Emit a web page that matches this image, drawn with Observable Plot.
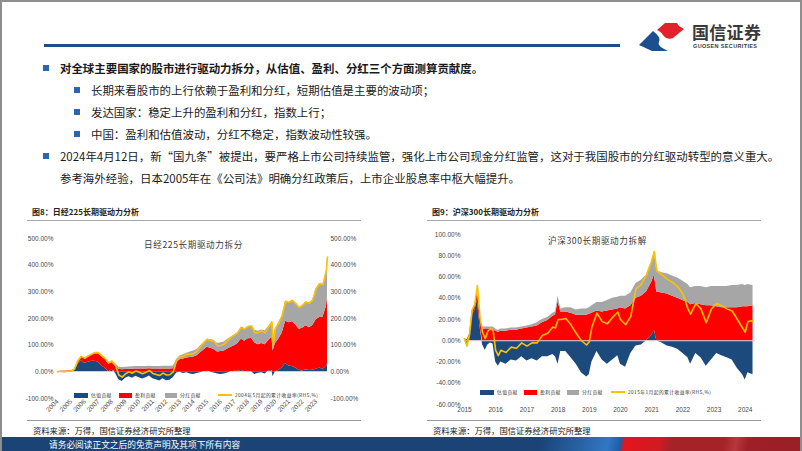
<!DOCTYPE html>
<html><head><meta charset="utf-8">
<script src="https://cdn.jsdelivr.net/npm/d3@7"></script>
<script src="https://cdn.jsdelivr.net/npm/@observablehq/plot@0.6"></script>
<style>
html,body{margin:0;padding:0;background:#fff;}
#page{position:relative;width:802px;height:451px;overflow:hidden;background:#fff;box-sizing:border-box;border:2px solid #8e8e8e;border-bottom:none;font-family:"Noto Sans CJK SC","Noto Sans",sans-serif;color:#1a1a1a;}
.abs{position:absolute;white-space:nowrap;}
.txt{font-size:11.45px;line-height:16px;}
.sq{position:absolute;width:6px;height:6px;background:#2a66ad;}
.fig{font-size:8px;font-weight:bold;line-height:10px;color:#222;}
.rule{position:absolute;height:1px;background:#a8a8a8;}
.src{font-size:8.3px;line-height:10px;color:#222;}
.ctitle{font-size:8.6px;line-height:10px;color:#3a3a3a;letter-spacing:0.6px;}
.lg{position:absolute;font-size:4.8px;line-height:6px;letter-spacing:0.4px;color:#333;white-space:nowrap;}
.sw{position:absolute;height:5px;}
.ln{position:absolute;height:1.3px;background:#ffc000;}
.chart{position:absolute;}
</style></head>
<body><div id="page">
  <!-- header -->
  <div class="abs" style="left:42px;top:42px;width:576px;height:3px;background:#1f4d8a;"></div>
  <svg class="abs" style="left:0;top:0;" width="802" height="60">
    <path d="M637,43 L651,29 C655,32 659,36 657,40 C655,44 662,47 666,49 L650,49 Z" fill="#1d4f8f"/>
    <path d="M655,28 L663,21 L675,21 L677,24 L682,27 L671,36 C667,38 663,36 661,33 C659,30 657,29 655,28 Z" fill="#e2222b"/>
  </svg>
  <div class="abs" style="left:690px;top:21px;font-size:17px;line-height:18px;font-weight:bold;color:#3a3a3a;letter-spacing:0.3px;">国信证券</div>
  <div class="abs" style="left:691px;top:41px;font-family:'Liberation Sans';font-size:5.5px;line-height:7px;font-weight:bold;color:#3a3a3a;letter-spacing:0.35px;">GUOSEN SECURITIES</div>

  <!-- bullets -->
  <div class="sq" style="left:41px;top:63px;"></div>
  <div class="abs txt" style="left:58px;top:58px;font-weight:bold;">对全球主要国家的股市进行驱动力拆分，从估值、盈利、分红三个方面测算贡献度。</div>
  <div class="sq" style="left:72px;top:85px;"></div>
  <div class="abs txt" style="left:89px;top:80px;">长期来看股市的上行依赖于盈利和分红，短期估值是主要的波动项；</div>
  <div class="sq" style="left:72px;top:107px;"></div>
  <div class="abs txt" style="left:89px;top:102px;">发达国家：稳定上升的盈利和分红，指数上行；</div>
  <div class="sq" style="left:72px;top:129px;"></div>
  <div class="abs txt" style="left:89px;top:124px;">中国：盈利和估值波动，分红不稳定，指数波动性较强。</div>
  <div class="sq" style="left:41px;top:151px;"></div>
  <div class="abs txt" style="left:58px;top:146px;">2024年4月12日，新“国九条”被提出，要严格上市公司持续监管，强化上市公司现金分红监管，这对于我国股市的分红驱动转型的意义重大。</div>
  <div class="abs txt" style="left:58px;top:168px;">参考海外经验，日本2005年在《公司法》明确分红政策后，上市企业股息率中枢大幅提升。</div>

  <!-- figure titles -->
  <div class="abs fig" style="left:30px;top:205px;">图8：日经225长期驱动力分析</div>
  <div class="rule" style="left:25px;top:218px;width:334px;"></div>
  <div class="abs fig" style="left:430px;top:205px;">图9：沪深300长期驱动力分析</div>
  <div class="rule" style="left:425px;top:218px;width:334px;"></div>

  <div id="c1" class="chart" style="left:18px;top:225px;"></div>
  <div id="c2" class="chart" style="left:418px;top:225px;"></div>

  <div class="abs ctitle" style="left:142px;top:237px;">日经225长期驱动力拆分</div>
  <div class="abs ctitle" style="left:546px;top:233px;">沪深300长期驱动力拆解</div>

  <div id="lg1"></div>
  <div id="lg2"></div>

  <!-- sources -->
  <div class="rule" style="left:25px;top:418px;width:334px;background:#999;"></div>
  <div class="abs src" style="left:31px;top:423px;">资料来源：万得，国信证券经济研究所整理</div>
  <div class="rule" style="left:425px;top:418px;width:334px;background:#999;"></div>
  <div class="abs src" style="left:431px;top:423px;">资料来源：万得，国信证券经济研究所整理</div>

  <!-- footer -->
  <div class="abs" style="left:0;top:435px;width:802px;height:16px;background:linear-gradient(100deg,#1b4376 0px,#1b4376 530px,#3277c4 598px,#1f5ca6 610px,#e3151d 614px,#d21a22 648px,#a52229 660px,#a52229 712px,#b8363d 724px,#9e1f27 736px,#9a1f26 802px);"></div>
  <div class="abs" style="left:47px;top:437px;font-size:8.7px;line-height:11px;color:#fff;">请务必阅读正文之后的免责声明及其项下所有内容</div>
</div>
<script>
// ---------- shared ----------
const keys = ["估值贡献", "盈利贡献", "分红贡献"];
const keyColors = ["#1d4a7c", "#ff0000", "#a6a6a6"];
const lineColor = "#ffc000";

// ---------- 图8 日经225 (quarterly readings, %) ----------
const nkDates = ["2004-05","2004-08","2004-11","2005-02","2005-05","2005-08","2005-11","2006-02","2006-05","2006-08","2006-11","2007-02","2007-05","2007-08","2007-11","2008-02","2008-05","2008-08","2008-11","2009-02","2009-05","2009-08","2009-11","2010-02","2010-05","2010-08","2010-11","2011-02","2011-05","2011-08","2011-11","2012-02","2012-05","2012-08","2012-11","2013-02","2013-05","2013-08","2013-11","2014-02","2014-05","2014-08","2014-11","2015-02","2015-05","2015-08","2015-11","2016-02","2016-05","2016-08","2016-11","2017-02","2017-05","2017-08","2017-11","2018-02","2018-05","2018-08","2018-11","2019-02","2019-05","2019-08","2019-11","2020-02","2020-03","2020-05","2020-08","2020-11","2021-02","2021-05","2021-08","2021-11","2022-02","2022-05","2022-08","2022-11","2023-02","2023-05","2023-08","2023-11","2024-02","2024-03"];
const nkValuation = [0,-1,-3,-2,-2,4,30,42,32,36,40,40,36,22,14,0,6,-4,-30,-36,-24,-18,-24,-17,-22,-27,-22,-16,-26,-30,-34,-26,-33,-32,-22,-4,-2,-6,-3,-8,-10,-6,-3,0,2,-2,-4,-8,-10,-8,-4,0,2,2,5,0,2,0,-10,-5,-3,-8,2,5,-18,0,5,15,30,22,20,14,5,3,8,5,6,10,14,10,20,30];
const nkEarnings = [0,2,2,3,3,5,10,14,17,20,23,28,32,34,32,28,28,22,10,8,9,10,10,11,11,11,11,12,11,11,11,11,11,11,12,35,45,48,52,54,56,60,72,82,90,88,84,74,76,78,86,92,96,104,118,115,122,125,108,102,106,102,115,125,78,105,118,130,160,162,168,162,155,160,165,160,168,185,190,195,225,255];
const nkDividend = [0,1,1,1,1,1,2,2,2,3,3,4,4,5,5,6,7,8,8,8,8,8,9,9,9,9,9,9,9,9,9,10,10,10,10,12,14,16,18,20,22,24,26,28,30,32,34,32,33,34,36,38,40,41,44,45,46,47,48,50,51,52,52,57,40,57,60,65,75,76,80,80,81,86,89,92,96,117,126,122,135,145];
const nkTotal = [0,2,0,2,2,10,42,58,51,59,66,72,72,61,51,34,41,26,-12,-20,-7,0,-5,3,-2,-7,-2,5,-6,-10,-14,-5,-12,-11,0,43,57,58,67,66,68,78,95,110,122,118,114,98,99,104,118,130,138,147,167,160,170,172,146,147,154,146,169,187,100,162,183,210,265,260,268,256,241,249,262,257,270,312,330,327,380,430];
const nkTickMonths = ["2004-05","2005-05","2006-05","2007-05","2008-05","2009-05","2010-05","2011-05","2012-05","2013-05","2014-05","2015-05","2016-05","2017-05","2018-05","2019-05","2020-05","2021-05","2022-05","2023-05"];
const nkYTicks = [-100, 0, 100, 200, 300, 400, 500];

// ---------- 图9 沪深300 (readings, %) ----------
const hsDates = ["2015-01","2015-02","2015-03","2015-04","2015-05","2015-06","2015-07","2015-08","2015-09","2015-10","2015-11","2015-12","2016-01","2016-02","2016-03","2016-05","2016-07","2016-09","2016-11","2017-01","2017-03","2017-05","2017-07","2017-09","2017-11","2017-12","2018-01","2018-02","2018-04","2018-06","2018-08","2018-10","2018-12","2019-01","2019-02","2019-04","2019-06","2019-08","2019-10","2019-12","2020-01","2020-03","2020-05","2020-07","2020-09","2020-11","2021-01","2021-02","2021-03","2021-05","2021-07","2021-09","2021-11","2022-01","2022-03","2022-04","2022-06","2022-08","2022-10","2022-12","2023-02","2023-04","2023-06","2023-08","2023-10","2023-12","2024-01","2024-02","2024-04"];
const hsValuation = [1,-6,4,24,28,38,14,-4,-9,-4,-2,-3,-20,-24,-20,-22,-18,-19,-15,-19,-17,-19,-15,-15,-13,-15,-22,-10,-10,-16,-22,-30,-34,-32,-20,-10,-18,-22,-18,-14,-22,-25,-12,-5,-4,0,5,10,0,-2,-5,-6,-8,-12,-16,-22,-12,-16,-24,-18,-12,-14,-16,-18,-26,-32,-37,-30,-32];
const hsEarnings = [1,1,2,4,5,8,10,11,11,11,11,11,9,8,9,9,10,10,11,12,13,14,17,19,23,24,37,27,27,26,24,24,24,25,26,28,27,28,29,30,31,30,33,40,42,46,50,52,46,45,44,42,40,38,36,34,35,34,33,33,32,31,31,31,31,32,32,32,33];
const hsDividend = [0,0,0.5,1,1,2,2,2,2,2,2,2,2,2,2,2,2,2,2,2,2,3,3,3,3,3,5,3,4,5,5,6,6,6,7,8,9,10,11,11,11,12,12,14,15,16,20,22,20,19,19,19,19,18,17,16,16,17,17,18,19,20,20,21,21,21,20,21,19];
const hsTotal = [2,-5,6,29,34,52,22,8,2,9,11,10,-9,-14,-9,-11,-6,-7,-2,-5,-2,-2,5,7,13,12,20,20,21,15,7,0,-4,-1,13,26,18,16,22,27,20,15,23,49,53,62,75,84,66,62,58,55,51,44,30,25,35,30,17,30,35,33,30,28,20,12,8,18,19];
const hsTickMonths = ["2015-01","2016-01","2017-01","2018-01","2019-01","2020-01","2021-01","2022-01","2023-01","2024-01"];
const hsYTicks = [-60, -40, -20, 0, 20, 40, 60, 80, 100];

// ---------- build ----------
const parse = d3.utcParse("%Y-%m");
function toLong(dates, series) {
  const out = [];
  dates.forEach((d, i) => keys.forEach((k, j) => out.push({date: parse(d), key: k, value: series[j][i]})));
  return out;
}
function toLine(dates, vals) { return dates.map((d, i) => ({date: parse(d), value: vals[i]})); }
const pct = d => d.toFixed(2) + "%";
const axisStyle = {fontFamily: "'Liberation Sans', Arial, sans-serif", fontSize: "6.5px", color: "#4a4a4a", background: "transparent", overflow: "visible"};

const nkLong = toLong(nkDates, [nkValuation, nkEarnings, nkDividend]);
const nkLine = toLine(nkDates, nkTotal);
const c1 = Plot.plot({
  width: 347, height: 195,
  marginTop: 11, marginBottom: 24, marginLeft: 37, marginRight: 40,
  x: {type: "utc", domain: [parse("2004-05"), parse("2024-03")]},
  y: {domain: [-100, 500]},
  color: {domain: keys, range: keyColors},
  style: axisStyle,
  marks: [
    Plot.areaY(nkLong, {x: "date", y: "value", fill: "key", order: keys}),
    Plot.lineY(nkLine, {x: "date", y: "value", stroke: lineColor, strokeWidth: 1.6}),
    Plot.axisY({anchor: "left", ticks: nkYTicks, tickFormat: pct, tickSize: 0, tickPadding: 4, label: null}),
    Plot.axisY({anchor: "right", ticks: nkYTicks, tickFormat: pct, tickSize: 0, tickPadding: 3, label: null}),
    Plot.axisX({ticks: nkTickMonths.map(parse), tickFormat: d => String(d.getUTCFullYear()), tickRotate: -45, tickSize: 0, tickPadding: 2, label: null})
  ]
});
document.getElementById("c1").appendChild(c1);

const hsLong = toLong(hsDates, [hsValuation, hsEarnings, hsDividend]);
const hsLine = toLine(hsDates, hsTotal);
const c2 = Plot.plot({
  width: 347, height: 195,
  marginTop: 7, marginBottom: 18, marginLeft: 44, marginRight: 12,
  x: {type: "utc", domain: [parse("2015-01"), new Date(Date.UTC(2024, 3, 30))]},
  y: {domain: [-60, 100]},
  color: {domain: keys, range: keyColors},
  style: axisStyle,
  marks: [
    Plot.areaY(hsLong, {x: "date", y: "value", fill: "key", order: keys}),
    Plot.ruleY([0], {stroke: "#f2c4c4", strokeWidth: 1}),
    Plot.lineY(hsLine, {x: "date", y: "value", stroke: lineColor, strokeWidth: 1.6}),
    Plot.axisY({anchor: "left", ticks: hsYTicks, tickFormat: pct, tickSize: 0, tickPadding: 4, label: null}),
    Plot.axisX({ticks: hsTickMonths.map(parse), tickFormat: d => String(d.getUTCFullYear()), tickSize: 0, tickPadding: 3, label: null})
  ]
});
document.getElementById("c2").appendChild(c2);

// ---------- legends ----------
function legend(id, top, pos, lineLabel) {
  const host = document.getElementById(id);
  const labels = keys.concat([lineLabel]);
  labels.forEach((lab, i) => {
    const p = pos[i];
    const sw = document.createElement("div");
    if (i < 3) { sw.className = "sw"; sw.style.background = keyColors[i]; sw.style.top = (top - 2.5) + "px"; }
    else { sw.className = "ln"; sw.style.top = (top - 0.6) + "px"; }
    sw.style.left = p[0] + "px"; sw.style.width = p[1] + "px";
    host.appendChild(sw);
    const t = document.createElement("div");
    t.className = "lg"; t.textContent = lab;
    t.style.left = (p[0] + p[1] + 3) + "px"; t.style.top = (top - 3) + "px";
    host.appendChild(t);
  });
}
legend("lg1", 393, [[72, 14], [117, 13], [163, 12], [216, 14]], "2004年5月起的累计收益率(RHS,%)");
legend("lg2", 390, [[478, 14], [522, 13], [565, 12], [609, 14]], "2015年1月起的累计收益率(RHS,%)");
</script>
</body></html>
